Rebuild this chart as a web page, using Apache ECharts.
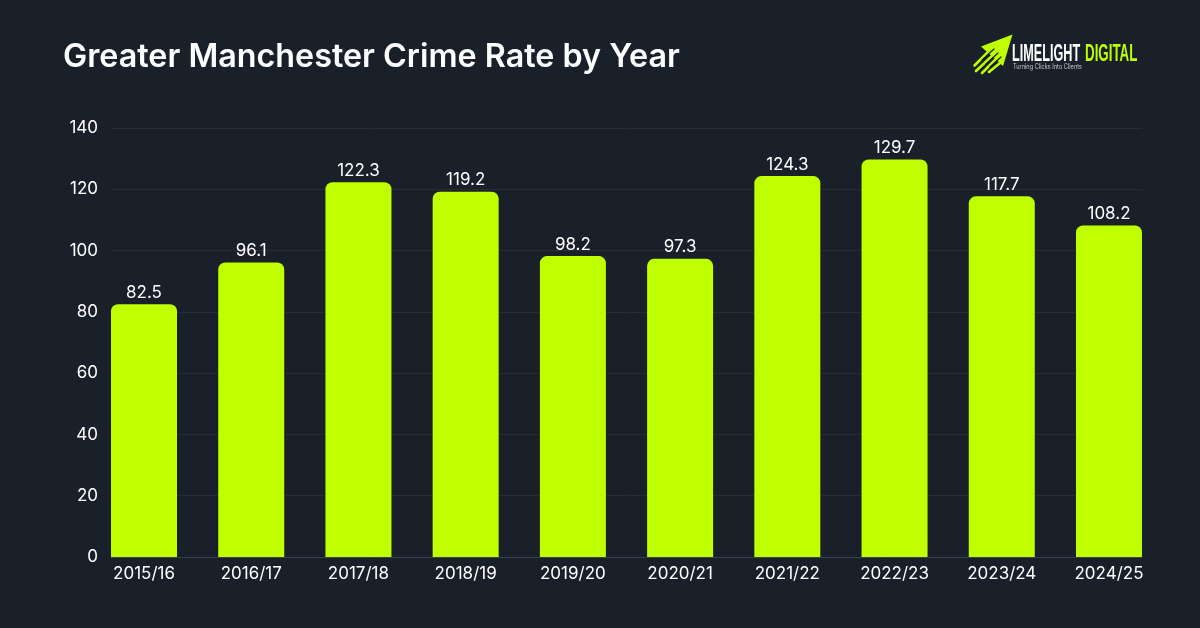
<!DOCTYPE html>
<html>
<head>
<meta charset="utf-8">
<style>html,body{margin:0;padding:0;background:#19202a}#c{width:1200px;height:628px}</style>
<script src="https://cdn.jsdelivr.net/npm/echarts@6/dist/echarts.min.js"></script>
</head>
<body>
<div id="c"></div>
<script>
const years = ['2015/16','2016/17','2017/18','2018/19','2019/20','2020/21','2021/22','2022/23','2023/24','2024/25'];
const crimeRate = [82.5,96.1,122.3,119.2,98.2,97.3,124.3,129.7,117.7,108.2];
const yMax = 140;
const yStep = 20;
const font = 'Inter';
const lime = '#bfff00';
const bg = '#19202a';
const wordmark = '700 23px "Liberation Sans"';

// Logo parts: a stroked line with round caps, used for the arrow's trailing streaks.
const stroke = (x1, y1, x2, y2, color, width) => ({
  type:'line',
  shape:{x1, y1, x2, y2},
  style:{stroke:color, lineWidth:width, lineCap:'round'}
});

const chart = echarts.init(document.getElementById('c'), null, {renderer:'canvas'});
chart.setOption({
  animation:false,
  backgroundColor:bg,
  title:{text:'Greater Manchester Crime Rate by Year',left:63,top:41,padding:0,textStyle:{color:'#fff',fontFamily:font,fontSize:32.3,fontWeight:600}},
  graphic:[
    {type:'polygon',shape:{points:[[1012.5,34.5],[981,46.5],[1003,66]]},style:{fill:lime}},
    stroke(988,52,974.5,65.5,lime,2.6),
    stroke(992,56,976,71,lime,2.6),
    stroke(996,59,982,73,lime,2.6),
    stroke(1000,63,989,72,lime,2.6),
    stroke(994,49,982,60,bg,1.2),
    stroke(998,53,986,64,bg,1.2),
    stroke(1001,57,990,67,bg,1.2),
    {type:'text',x:1012,y:43,scaleX:0.55,style:{text:'LIMELIGHT',fill:'#fff',font:wordmark}},
    {type:'text',x:1085,y:43,scaleX:0.58,style:{text:'DIGITAL',fill:lime,font:wordmark}},
    {type:'text',x:1013,y:63,scaleX:0.8,style:{text:'Turning Clicks Into Clients',fill:'#c8cace',font:'7px Inter'}}
  ],
  // Rules span the bars' outer edges, while the category band sits on a wider grid.
  grid:[
    {left:111,right:58,top:128,bottom:71},
    {left:90.4,width:1072.2,top:128,bottom:71}
  ],
  xAxis:[
    {type:'category',gridIndex:0,data:years,axisTick:{show:false},axisLabel:{show:false},axisLine:{lineStyle:{color:'#3a424d',width:1}}},
    {type:'category',gridIndex:1,data:years,axisTick:{show:false},axisLine:{show:false},axisLabel:{color:'#fff',fontFamily:font,fontSize:17,margin:8}}
  ],
  yAxis:[
    {type:'value',gridIndex:0,min:0,max:yMax,interval:yStep,axisLabel:{color:'#fff',fontFamily:font,fontSize:17,margin:13},splitLine:{lineStyle:{color:'#262d37',width:1}},axisLine:{show:false},axisTick:{show:false}},
    {type:'value',gridIndex:1,min:0,max:yMax,interval:yStep,show:false}
  ],
  series:[{type:'bar',xAxisIndex:1,yAxisIndex:1,data:crimeRate,barWidth:66,itemStyle:{color:lime,borderRadius:[7,7,0,0]},label:{show:true,position:'top',distance:3,color:'#fff',fontFamily:font,fontSize:17,formatter:p=>p.value.toFixed(1)}}]
});
</script>
</body>
</html>
